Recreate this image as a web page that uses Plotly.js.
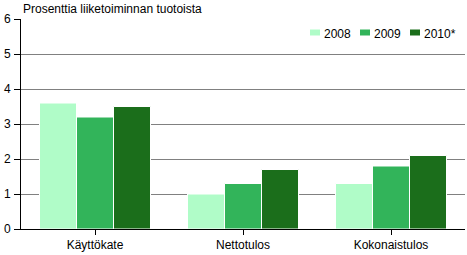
<!DOCTYPE html>
<html><head><meta charset="utf-8">
<script src="https://cdn.plot.ly/plotly-3.0.1.min.js"></script>
<style>html,body{margin:0;padding:0;background:#fff;}#c{width:467px;height:255px;}</style>
</head><body><div id="c"></div>
<script>
const categories = ["Käyttökate", "Nettotulos", "Kokonaistulos"];
const seriesNames = ["2008", "2009", "2010*"];
const v2008 = [3.6, 1.0, 1.3];
const v2009 = [3.2, 1.3, 1.8];
const v2010 = [3.5, 1.7, 2.1];
const yTicks = [0, 1, 2, 3, 4, 5, 6];
const colors = ["#b0fcc8", "#32b45a", "#1b6e1b"];
const vals = [v2008, v2009, v2010];

const M = {l: 21, r: 2, t: 19, b: 26};
const W = 467, H = 255;
const pw = W - M.l - M.r, ph = H - M.t - M.b;
const px = x => (x - M.l) / pw;
const py = y => (H - M.b - y) / ph;

const data = vals.map((v, i) => ({
  type: "bar", x: categories, y: v, name: seriesNames[i],
  marker: {color: colors[i], line: {color: "#ffffff", width: 1}},
  hoverinfo: "none", showlegend: false
}));

// custom compact legend (swatch + label), placed top-right inside plot
const legendStarts = [310, 360, 410];
const shapes = [], annotations = [];
seriesNames.forEach((n, i) => {
  const x0 = legendStarts[i];
  shapes.push({type: "rect", xref: "paper", yref: "paper",
    x0: px(x0), x1: px(x0 + 10), y0: py(35.5), y1: py(29.5),
    fillcolor: colors[i], line: {width: 0}});
  annotations.push({text: n, xref: "paper", yref: "paper", x: px(x0 + 12), y: py(34),
    xanchor: "left", yanchor: "middle", showarrow: false, font: {size: 12}});
});
annotations.push({text: "Prosenttia liiketoiminnan tuotoista", xref: "paper", yref: "paper",
  x: 0, y: 1, xanchor: "left", yanchor: "bottom", yshift: 1, showarrow: false,
  font: {size: 12}});

const layout = {
  width: W, height: H,
  margin: {l: M.l, r: M.r, t: M.t, b: M.b, pad: 0},
  paper_bgcolor: "#fff", plot_bgcolor: "#fff",
  font: {family: "Liberation Sans, Arial, sans-serif", size: 12, color: "#000"},
  barmode: "group", bargap: 0.25, bargroupgap: 0,
  showlegend: false,
  xaxis: {showline: true, linecolor: "#000", linewidth: 1, ticks: "outside",
    ticklen: 5, tickcolor: "#000", showgrid: false, zeroline: false, fixedrange: true},
  yaxis: {range: [0, 6], tickvals: yTicks, ticktext: yTicks.map(String),
    showline: true, linecolor: "#000", linewidth: 1, ticks: "outside", ticklen: 6,
    tickcolor: "#000", showgrid: true, gridcolor: "#808080", gridwidth: 1,
    zeroline: false, fixedrange: true, ticklabelstandoff: 1},
  shapes: shapes,
  annotations: annotations
};
Plotly.newPlot("c", data, layout, {displayModeBar: false, staticPlot: true});
</script></body></html>
